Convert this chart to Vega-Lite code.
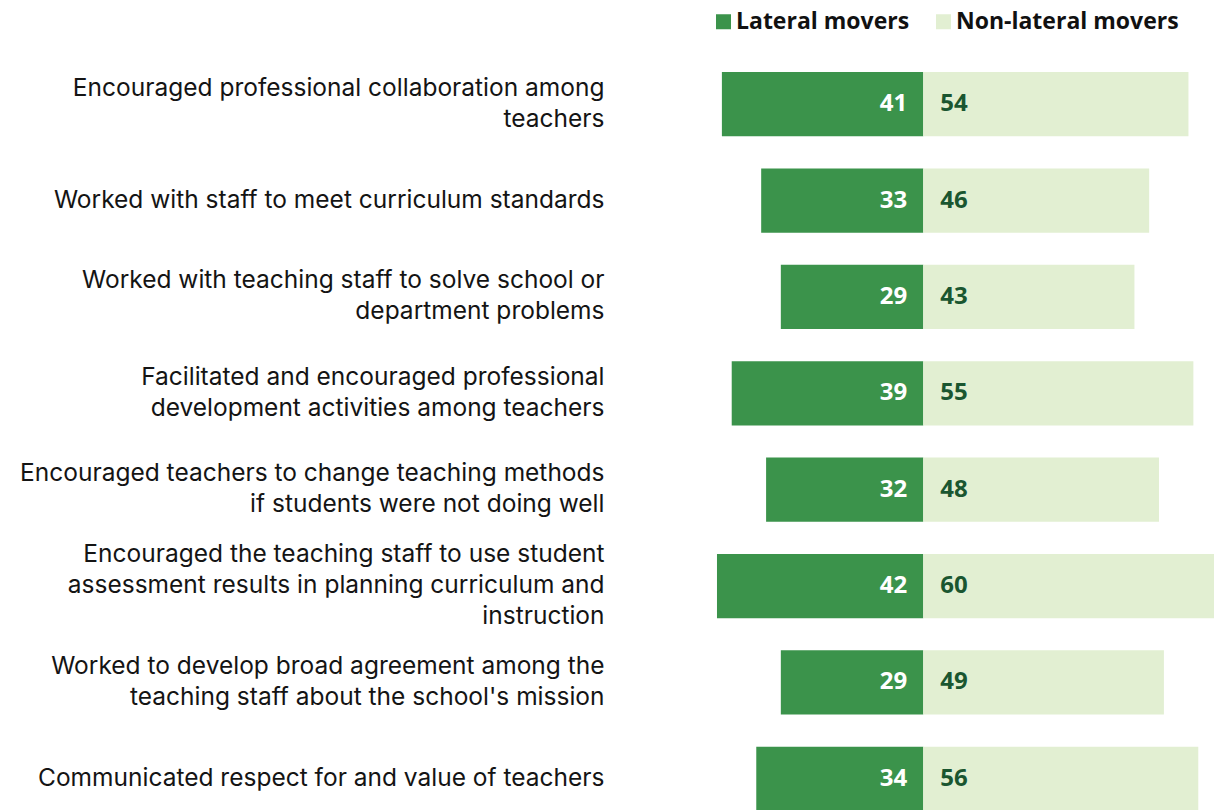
{
  "$schema": "https://vega.github.io/schema/vega-lite/v6.json",
  "autosize": {"type": "none"},
  "width": 498,
  "height": 771,
  "padding": {"left": 716, "top": 56, "right": 0, "bottom": 0},
  "background": "white",
  "config": {
    "view": {"stroke": null},
    "font": "Open Sans"
  },
  "data": {
    "values": [
      {"item": "Encouraged professional collaboration among|teachers", "group": "Lateral movers", "pct": 41},
      {"item": "Encouraged professional collaboration among|teachers", "group": "Non-lateral movers", "pct": 54},
      {"item": "Worked with staff to meet curriculum standards", "group": "Lateral movers", "pct": 33},
      {"item": "Worked with staff to meet curriculum standards", "group": "Non-lateral movers", "pct": 46},
      {"item": "Worked with teaching staff to solve school or|department problems", "group": "Lateral movers", "pct": 29},
      {"item": "Worked with teaching staff to solve school or|department problems", "group": "Non-lateral movers", "pct": 43},
      {"item": "Facilitated and encouraged professional|development activities among teachers", "group": "Lateral movers", "pct": 39},
      {"item": "Facilitated and encouraged professional|development activities among teachers", "group": "Non-lateral movers", "pct": 55},
      {"item": "Encouraged teachers to change teaching methods|if students were not doing well", "group": "Lateral movers", "pct": 32},
      {"item": "Encouraged teachers to change teaching methods|if students were not doing well", "group": "Non-lateral movers", "pct": 48},
      {"item": "Encouraged the teaching staff to use student|assessment results in planning curriculum and|instruction", "group": "Lateral movers", "pct": 42},
      {"item": "Encouraged the teaching staff to use student|assessment results in planning curriculum and|instruction", "group": "Non-lateral movers", "pct": 60},
      {"item": "Worked to develop broad agreement among the|teaching staff about the school's mission", "group": "Lateral movers", "pct": 29},
      {"item": "Worked to develop broad agreement among the|teaching staff about the school's mission", "group": "Non-lateral movers", "pct": 49},
      {"item": "Communicated respect for and value of teachers", "group": "Lateral movers", "pct": 34},
      {"item": "Communicated respect for and value of teachers", "group": "Non-lateral movers", "pct": 56}
    ]
  },
  "encoding": {
    "y": {
      "field": "item",
      "type": "nominal",
      "sort": null,
      "scale": {"paddingInner": 0.333, "paddingOuter": 0.1665},
      "axis": {
        "title": null,
        "ticks": false,
        "domain": false,
        "labelExpr": "split(datum.value, '|')",
        "labelFontSize": 24.5,
        "labelFont": "Inter",
        "labelColor": "#141414",
        "labelLineHeight": 31,
        "labelPadding": 112,
        "labelLimit": 800,
        "labelOffset": {
          "condition": [
            {"test": "length(split(datum.value, '|')) == 3", "value": -31},
            {"test": "length(split(datum.value, '|')) == 2", "value": -15.5}
          ],
          "value": 0
        }
      }
    }
  },
  "layer": [
    {
      "transform": [{"filter": "datum.group == 'Lateral movers'"}],
      "encoding": {
        "x": {
          "field": "pct",
          "type": "quantitative",
          "scale": {"domain": [-59.2, 42.2], "reverse": true, "nice": false, "zero": false},
          "axis": null
        }
      },
      "layer": [
        {
          "mark": {"type": "bar"},
          "encoding": {
            "x2": {"datum": 0},
            "color": {
              "field": "group",
              "type": "nominal",
              "scale": {"domain": ["Lateral movers", "Non-lateral movers"], "range": ["#3b934b", "#e2efd2"]},
              "legend": {
                "title": null,
                "orient": "none",
                "direction": "horizontal",
                "legendX": -4,
                "legendY": -46,
                "padding": 0,
                "symbolType": "square",
                "symbolSize": 225,
                "symbolStrokeWidth": 0,
                "symbolOpacity": 1,
                "labelFontSize": 23,
                "labelFont": "Open Sans",
                "labelFontWeight": "bold",
                "labelColor": "#111111",
                "labelOffset": 1,
                "columnPadding": 22,
                "labelLimit": 400
              }
            }
          }
        },
        {
          "mark": {"type": "text", "align": "right", "baseline": "middle", "dx": -16, "fontSize": 24, "fontWeight": "bold", "font": "Open Sans", "color": "white"},
          "encoding": {
            "x": {"datum": 0},
            "text": {"field": "pct", "type": "quantitative"}
          }
        }
      ]
    },
    {
      "transform": [{"filter": "datum.group == 'Non-lateral movers'"}],
      "encoding": {
        "x": {
          "field": "pct",
          "type": "quantitative",
          "scale": {"domain": [-42.2, 59.2], "nice": false, "zero": false},
          "axis": null
        }
      },
      "layer": [
        {
          "mark": {"type": "bar"},
          "encoding": {
            "x2": {"datum": 0},
            "color": {"field": "group", "type": "nominal"}
          }
        },
        {
          "mark": {"type": "text", "align": "left", "baseline": "middle", "dx": 17, "fontSize": 24, "fontWeight": "bold", "font": "Open Sans", "color": "#1a5630"},
          "encoding": {
            "x": {"datum": 0},
            "text": {"field": "pct", "type": "quantitative"}
          }
        }
      ]
    }
  ],
  "resolve": {"scale": {"x": "independent"}}
}
